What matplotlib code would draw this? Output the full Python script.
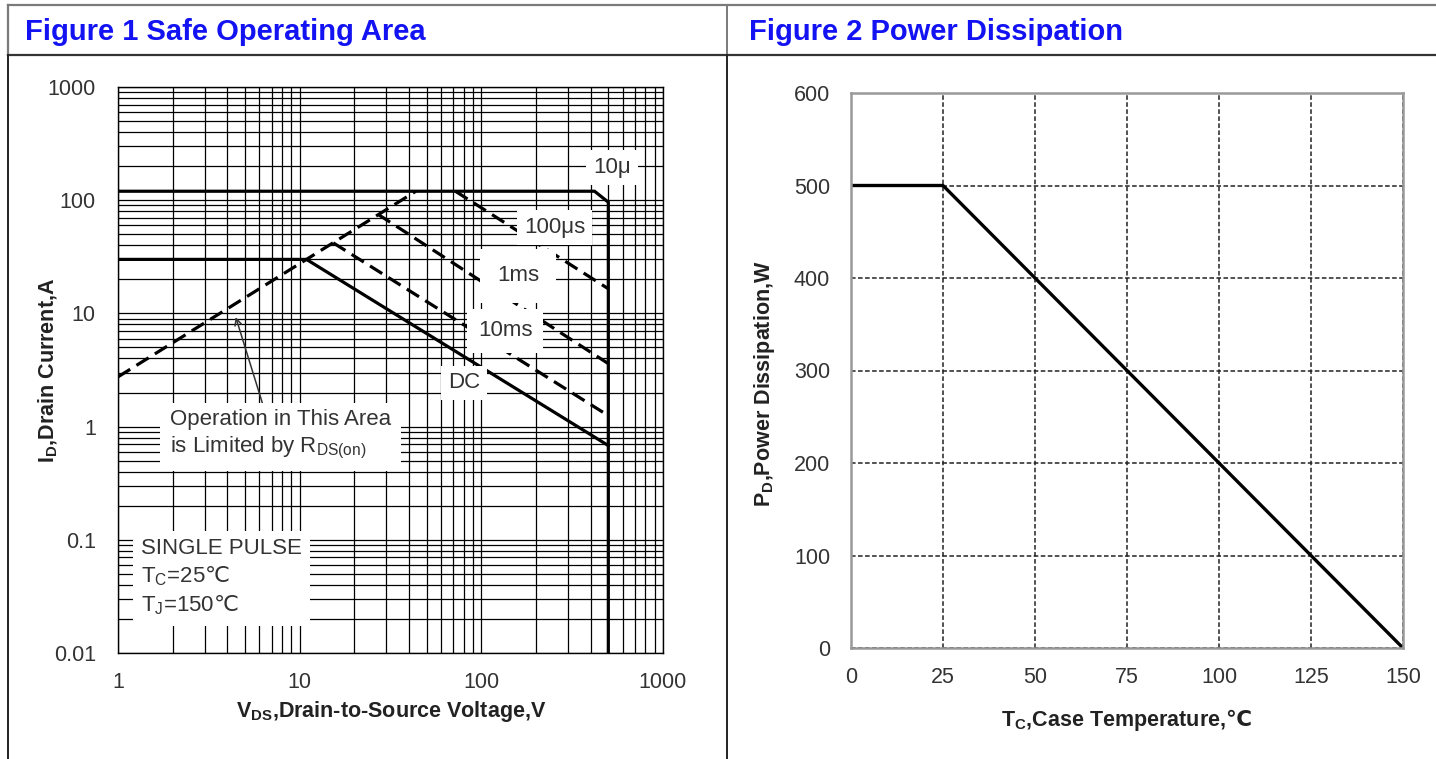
import matplotlib
matplotlib.use('Agg')
import matplotlib.pyplot as plt
from matplotlib.lines import Line2D
from matplotlib.ticker import LogLocator, NullFormatter, FixedLocator

plt.rcParams['font.family'] = ['Liberation Sans', 'DejaVu Sans']
plt.rcParams['mathtext.default'] = 'regular'

# %% data -- figure 1, safe operating area (V, A)
vds_10us = [1, 420, 500, 500]
id_10us = [120, 120, 96, 0.01]
vds_100us = [72, 500]
id_100us = [120, 16.5]
vds_1ms = [27, 500]
id_1ms = [75, 3.6]
vds_10ms = [15.3, 500]
id_10ms = [42, 1.25]
vds_dc = [1, 10.9, 500]
id_dc = [30, 30, 0.68]
vds_rds = [1, 43.6]
id_rds = [2.75, 120]

x_ticks1 = [1, 10, 100, 1000]
x_labels1 = ['1', '10', '100', '1000']
y_ticks1 = [0.01, 0.1, 1, 10, 100, 1000]
y_labels1 = ['0.01', '0.1', '1', '10', '100', '1000']

# %% data -- figure 2, power dissipation
tc = [0, 25, 150]
pd_w = [500, 500, 0]
x_ticks2 = [0, 25, 50, 75, 100, 125, 150]
y_ticks2 = [0, 100, 200, 300, 400, 500, 600]

W, H = 1436, 759
fig = plt.figure(figsize=(W / 100, H / 100), dpi=100)

def px(x0, y0, x1, y1):
    return [x0 / W, 1 - y1 / H, (x1 - x0) / W, (y1 - y0) / H]

# table frame
grey = '#7a7a7a'
fig.add_artist(Line2D([8 / W, 1], [1 - 5 / H] * 2, color=grey, lw=1.6))
fig.add_artist(Line2D([8 / W, 1], [1 - 55 / H] * 2, color='#333333', lw=1.6))
fig.add_artist(Line2D([8 / W] * 2, [1 - 5 / H, 1 - 55 / H], color=grey, lw=1.6))
fig.add_artist(Line2D([8 / W] * 2, [0, 1 - 55 / H], color='#222222', lw=1.4))
fig.add_artist(Line2D([727 / W] * 2, [1 - 5 / H, 1 - 55 / H], color=grey, lw=1.4))
fig.add_artist(Line2D([727 / W] * 2, [0, 1 - 55 / H], color='#222222', lw=1.4))

title_kw = dict(fontsize=21, fontweight='bold', color='#1212f2', va='center', ha='left')
fig.text(25 / W, 1 - 32 / H, 'Figure 1 Safe Operating Area', **title_kw)
fig.text(749 / W, 1 - 32 / H, 'Figure 2 Power Dissipation', **title_kw)

# %% figure 1
ax1 = fig.add_axes(px(118, 87, 663, 653))
ax1.set_xscale('log')
ax1.set_yscale('log')
ax1.set_xlim(1, 1000)
ax1.set_ylim(0.01, 1000)
ax1.xaxis.set_major_locator(FixedLocator(x_ticks1))
ax1.yaxis.set_major_locator(FixedLocator(y_ticks1))
ax1.set_xticklabels(x_labels1)
ax1.set_yticklabels(y_labels1)
ax1.xaxis.set_minor_locator(LogLocator(base=10, subs=range(2, 10)))
ax1.yaxis.set_minor_locator(LogLocator(base=10, subs=range(2, 10)))
ax1.xaxis.set_minor_formatter(NullFormatter())
ax1.yaxis.set_minor_formatter(NullFormatter())
ax1.grid(True, which='both', color='black', lw=0.9)
ax1.tick_params(which='both', length=0, labelsize=15.5, labelcolor='#333333')
ax1.tick_params(axis='x', pad=14)
ax1.tick_params(axis='y', pad=16)
for s in ax1.spines.values():
    s.set_color('black')
    s.set_linewidth(1)
ax1.set_axisbelow(True)

lw = 2.3
ax1.plot(vds_10us, id_10us, color='black', lw=lw, solid_joinstyle='miter')
ax1.plot(vds_dc, id_dc, color='black', lw=lw)
dash = (0, (4.5, 2.3))
ax1.plot(vds_100us, id_100us, color='black', lw=lw, ls=dash)
ax1.plot(vds_1ms, id_1ms, color='black', lw=lw, ls=dash)
ax1.plot(vds_10ms, id_10ms, color='black', lw=lw, ls=dash)
ax1.plot(vds_rds, id_rds, color='black', lw=lw, ls=dash)

ax1.annotate('', xy=(4.4, 9.8), xytext=(6.6, 1.2),
             arrowprops=dict(arrowstyle='->', lw=1.1, color='#333333', mutation_scale=12),
             zorder=3)

lab_kw = dict(fontsize=16, color='#333333', ha='center', va='center', zorder=5,
              bbox=dict(facecolor='white', edgecolor='none', pad=5))
ax1.text(523, 196, '10μ', **lab_kw)
ax1.text(254, 57, '100μs', **lab_kw)
ax1.text(159, 21.4, '1ms', **dict(lab_kw, bbox=dict(facecolor='white', edgecolor='none', pad=12)))
ax1.text(135, 7.0, '10ms', **dict(lab_kw, bbox=dict(facecolor='white', edgecolor='none', pad=8)))
ax1.text(80, 2.43, 'DC', **lab_kw)
ax1.text(1.93, 0.84, 'Operation in This Area\nis Limited by R$_{DS(on)}$',
         fontsize=16, color='#333333', ha='left', va='center', linespacing=1.3, zorder=5,
         bbox=dict(facecolor='white', edgecolor='none', pad=7))
ax1.text(1.34, 0.046, 'SINGLE PULSE\nT$_C$=25$\\mathrm{℃}$\nT$_J$=150$\\mathrm{℃}$',
         fontsize=16, color='#333333', ha='left', va='center', linespacing=1.3, zorder=5,
         bbox=dict(facecolor='white', edgecolor='none', pad=6))

fig.text(391 / W, 1 - 711 / H, 'V$_{DS}$,Drain-to-Source Voltage,V', fontsize=15.5,
         fontweight='bold', color='#222222', ha='center', va='center')
fig.text(48 / W, 1 - 370 / H, 'I$_D$,Drain Current,A', fontsize=15.5, rotation=90,
         fontweight='bold', color='#222222', ha='center', va='center')

# %% figure 2
ax2 = fig.add_axes(px(851, 93, 1403, 648))
ax2.set_xlim(0, 150)
ax2.set_ylim(0, 600)
ax2.xaxis.set_major_locator(FixedLocator(x_ticks2))
ax2.yaxis.set_major_locator(FixedLocator(y_ticks2))
ax2.grid(True, color='#222222', lw=1.1, ls=(0, (3, 1.6)))
ax2.tick_params(length=0, labelsize=15.5, labelcolor='#333333')
ax2.tick_params(axis='x', pad=14)
ax2.tick_params(axis='y', pad=15)
for s in ax2.spines.values():
    s.set_color('#999999')
    s.set_linewidth(1.8)
ax2.set_axisbelow(True)
ax2.plot(tc, pd_w, color='black', lw=2.4)

fig.text(1127 / W, 1 - 720 / H, 'T$_C$,Case Temperature,$\\mathbf{℃}$', fontsize=15.5,
         fontweight='bold', color='#222222', ha='center', va='center')
fig.text(765 / W, 1 - 384 / H, 'P$_D$,Power Dissipation,W', fontsize=15.5, rotation=90,
         fontweight='bold', color='#222222', ha='center', va='center')

fig.savefig('out.png', dpi=100, facecolor='white')
